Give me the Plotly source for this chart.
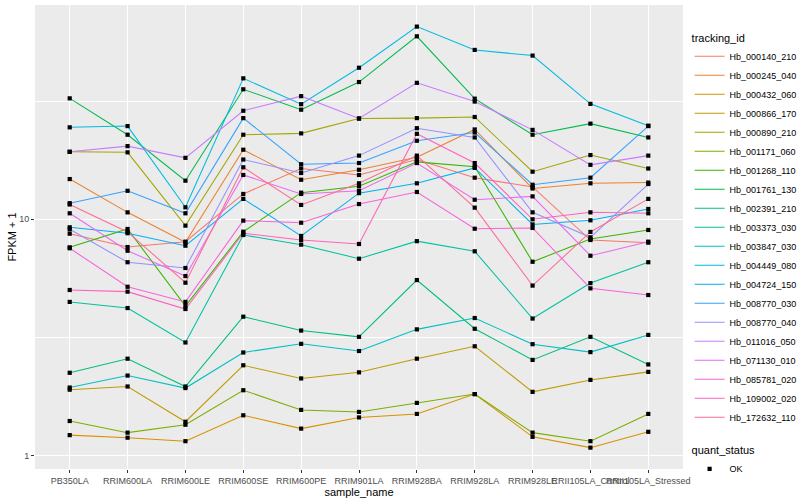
import plotly.graph_objects as go

samples = ["PB350LA", "RRIM600LA", "RRIM600LE", "RRIM600SE", "RRIM600PE", "RRIM901LA",
           "RRIM928BA", "RRIM928LA", "RRIM928LE", "RRII105LA_Control", "RRII105LA_Stressed"]

tracking_ids = ["Hb_000140_210", "Hb_000245_040", "Hb_000432_060", "Hb_000866_170", "Hb_000890_210",
                "Hb_001171_060", "Hb_001268_110", "Hb_001761_130", "Hb_002391_210", "Hb_003373_030",
                "Hb_003847_030", "Hb_004449_080", "Hb_004724_150", "Hb_008770_030", "Hb_008770_040",
                "Hb_011016_050", "Hb_071130_010", "Hb_085781_020", "Hb_109002_020", "Hb_172632_110"]

hue_colors = ["#F8766D", "#EA8331", "#D89000", "#C09B00", "#A3A500", "#7CAE00", "#39B600", "#00BB4E",
              "#00BF7D", "#00C1A3", "#00BFC4", "#00BAE0", "#00B0F6", "#35A2FF", "#9590FF", "#C77CFF",
              "#E76BF3", "#FA62DB", "#FF62BC", "#FF6C91"]

# FPKM + 1 per sample (order of `samples`)
hb_000140_210 = [8.69, 7.63, 8.04, 12.8, 16.4, 15.4, 17.9, 15.0, 13.7, 8.17, 7.96]
hb_000245_040 = [14.8, 10.7, 7.99, 19.7, 14.7, 16.2, 18.3, 24.0, 13.5, 14.2, 14.3]
hb_000432_060 = [1.22, 1.19, 1.15, 1.48, 1.30, 1.45, 1.50, 1.82, 1.20, 1.08, 1.26]
hb_000866_170 = [1.90, 1.96, 1.39, 2.41, 2.12, 2.25, 2.57, 2.90, 1.86, 2.09, 2.26]
hb_000890_210 = [19.3, 19.2, 9.40, 22.8, 23.1, 26.7, 26.8, 27.1, 15.9, 18.7, 16.4]
hb_001171_060 = [1.40, 1.25, 1.35, 1.89, 1.56, 1.53, 1.67, 1.82, 1.25, 1.15, 1.50]
hb_001268_110 = [7.61, 9.10, 4.29, 8.86, 12.96, 13.8, 17.5, 16.7, 6.61, 8.25, 9.01]
hb_001761_130 = [32.5, 22.8, 14.57, 35.5, 29.1, 38.1, 59.5, 32.4, 22.8, 25.4, 22.2]
hb_002391_210 = [2.24, 2.57, 1.96, 3.87, 3.38, 3.18, 5.53, 3.44, 2.54, 3.18, 2.43]
hb_003373_030 = [4.47, 4.21, 3.01, 8.58, 7.81, 6.81, 8.08, 7.32, 3.80, 5.37, 6.58]
hb_003847_030 = [1.94, 2.18, 1.93, 2.73, 2.97, 2.77, 3.42, 3.82, 2.96, 2.74, 3.24]
hb_004449_080 = [24.5, 24.8, 11.24, 39.5, 30.7, 43.8, 65.4, 52.1, 49.3, 30.8, 24.9]
hb_004724_150 = [9.25, 8.73, 7.73, 12.2, 8.50, 12.9, 14.2, 16.5, 9.51, 9.90, 11.06]
hb_008770_030 = [11.7, 13.2, 10.6, 26.8, 17.1, 17.3, 21.5, 23.3, 14.0, 15.0, 24.8]
hb_008770_040 = [9.07, 6.58, 6.22, 17.9, 15.7, 18.6, 24.3, 22.2, 10.7, 8.39, 14.1]
hb_011016_050 = [19.3, 20.4, 18.2, 28.8, 33.2, 26.7, 37.8, 31.5, 23.9, 17.0, 18.6]
hb_071130_010 = [10.6, 7.36, 5.75, 15.4, 12.8, 13.2, 17.3, 12.1, 12.5, 7.01, 8.04]
hb_085781_020 = [7.54, 5.18, 4.47, 9.87, 9.67, 11.6, 13.05, 9.12, 9.19, 5.10, 4.78]
hb_109002_020 = [5.02, 4.94, 4.17, 8.73, 8.17, 7.86, 23.0, 17.3, 10.0, 10.7, 10.6]
hb_172632_110 = [11.55, 8.84, 5.39, 16.6, 11.5, 14.2, 18.6, 11.2, 5.24, 8.84, 12.2]

series_values = [hb_000140_210, hb_000245_040, hb_000432_060, hb_000866_170, hb_000890_210,
                 hb_001171_060, hb_001268_110, hb_001761_130, hb_002391_210, hb_003373_030,
                 hb_003847_030, hb_004449_080, hb_004724_150, hb_008770_030, hb_008770_040,
                 hb_011016_050, hb_071130_010, hb_085781_020, hb_109002_020, hb_172632_110]

y_tick_vals = [1, 10]
y_tick_text = ["1", "10"]
y_minor_vals = [3.1623, 31.623]

fig = go.Figure()

for name, vals, col in zip(tracking_ids, series_values, hue_colors):
    fig.add_trace(go.Scatter(x=samples, y=vals, mode="lines", name=name,
                             line=dict(color=col, width=1.05), legend="legend",
                             hoverinfo="skip"))

all_x, all_y = [], []
for vals in series_values:
    all_x.extend(samples)
    all_y.extend(vals)

fig.add_trace(go.Scatter(x=all_x, y=all_y, mode="markers", name="OK", legend="legend2",
                         marker=dict(symbol="square", color="black", size=4.2,
                                     line=dict(width=0))))

axis_font = dict(family="Liberation Sans, Arial, sans-serif", size=9, color="#4D4D4D")

fig.update_layout(
    width=800, height=500,
    margin=dict(l=35, r=117, t=5, b=31, autoexpand=False),
    paper_bgcolor="white", plot_bgcolor="#EBEBEB",
    font=dict(family="Liberation Sans, Arial, sans-serif", size=11, color="black"),
    xaxis=dict(type="category", categoryorder="array", categoryarray=samples,
               range=[-0.6, 10.6], showgrid=True, gridcolor="white", gridwidth=1.1,
               ticks="outside", ticklen=3, tickwidth=1, tickcolor="#333333",
               tickfont=axis_font, tickangle=0, zeroline=False, showline=False,
               title=dict(text="sample_name", font=dict(size=11), standoff=0)),
    yaxis=dict(type="log", range=[-0.057, 1.907], tickmode="array",
               tickvals=y_tick_vals, ticktext=y_tick_text,
               showgrid=True, gridcolor="white", gridwidth=1.1,
               minor=dict(tickmode="array", tickvals=y_minor_vals, showgrid=True,
                          gridcolor="white", gridwidth=0.55, ticks=""),
               ticks="outside", ticklen=3, tickwidth=1, tickcolor="#333333",
               tickfont=axis_font, zeroline=False, showline=False,
               title=dict(text="FPKM + 1", font=dict(size=11), standoff=0)),
    legend=dict(title=dict(text="tracking_id", font=dict(size=11)),
                xref="container", yref="container",
                x=0.862, xanchor="left", y=0.945, yanchor="top",
                font=dict(size=9), bgcolor="rgba(0,0,0,0)", itemwidth=30,
                tracegroupgap=0, maxheight=460),
    legend2=dict(title=dict(text="quant_status", font=dict(size=11)),
                 xref="container", yref="container",
                 x=0.862, xanchor="left", y=0.12, yanchor="top",
                 font=dict(size=9), bgcolor="rgba(0,0,0,0)", maxheight=100),
    showlegend=True,
)

fig.write_html("out.html", config={"displayModeBar": False},
               post_script="document.body.style.margin='0';document.body.style.overflow='hidden';")
